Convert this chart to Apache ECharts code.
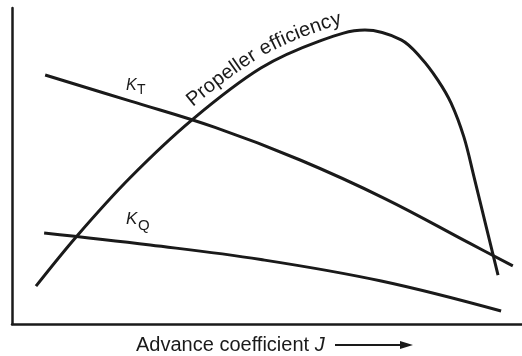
<!DOCTYPE html>
<html>
<head>
<meta charset="utf-8">
<script src="https://cdn.jsdelivr.net/npm/echarts@6/dist/echarts.min.js"></script>
<style>
html,body{margin:0;padding:0;background:#fff;}
#chart{width:522px;height:356px;}
</style>
</head>
<body>
<div id="chart"></div>
<script>
// propeller open water curves (0..1 scale)
var ktJ = [0.065, 0.231, 0.398, 0.565, 0.731, 0.898, 0.982];
var ktVal = [0.788, 0.706, 0.622, 0.519, 0.397, 0.255, 0.184];

var kqJ = [0.063, 0.271, 0.488, 0.724, 0.959];
var kqVal = [0.288, 0.250, 0.204, 0.136, 0.041];

var effJ = [0.047, 0.127, 0.231, 0.353, 0.488, 0.604, 0.692, 0.763, 0.802, 0.835, 0.861, 0.886, 0.906, 0.929, 0.953];
var effVal = [0.120, 0.278, 0.462, 0.646, 0.810, 0.896, 0.930, 0.899, 0.842, 0.772, 0.699, 0.592, 0.465, 0.313, 0.155];

var effLabel = 'Propeller efficiency';
var xName = 'Advance coefficient ';

var ink = '#1a1a1a';
var font = '"Liberation Sans", Arial, Helvetica, sans-serif';

function pairs(xs, ys) {
	return xs.map(function (x, i) { return [x, ys[i]]; });
}

var chart = echarts.init(document.getElementById('chart'));

var lineStyle = { color: ink, width: 3 };

chart.setOption({
	animation: false,
	backgroundColor: '#fff',
	grid: { left: 12, right: 0, top: 8, bottom: 32 },
	xAxis: {
		type: 'value', min: 0, max: 1,
		axisLine: { show: true, lineStyle: { color: ink, width: 2.5 } },
		axisTick: { show: false }, axisLabel: { show: false }, splitLine: { show: false }
	},
	yAxis: {
		type: 'value', min: 0, max: 1,
		axisLine: { show: true, lineStyle: { color: ink, width: 2.5 } },
		axisTick: { show: false }, axisLabel: { show: false }, splitLine: { show: false }
	},
	series: [
		{ name: 'KT', type: 'line', smooth: 0.4, showSymbol: false, lineStyle: lineStyle, data: pairs(ktJ, ktVal) },
		{ name: 'KQ', type: 'line', smooth: 0.4, showSymbol: false, lineStyle: lineStyle, data: pairs(kqJ, kqVal) },
		{ name: 'Efficiency', type: 'line', smooth: 0.35, showSymbol: false, lineStyle: lineStyle, data: pairs(effJ, effVal) }
	]
});

// text that follows the efficiency curve, one char at a time
function curveText(text, fontPx, startX, offset) {
	var pts = effJ.map(function (x, i) { return chart.convertToPixel({ gridIndex: 0 }, [x, effVal[i]]); });
	var dense = [];
	var n = pts.length;
	for (var i = 0; i < n - 1; i++) {
		var p0 = pts[Math.max(i - 1, 0)], p1 = pts[i], p2 = pts[i + 1], p3 = pts[Math.min(i + 2, n - 1)];
		for (var k = 0; k < 20; k++) {
			var t = k / 20, t2 = t * t, t3 = t2 * t;
			var px = 0.5 * ((2 * p1[0]) + (-p0[0] + p2[0]) * t + (2 * p0[0] - 5 * p1[0] + 4 * p2[0] - p3[0]) * t2 + (-p0[0] + 3 * p1[0] - 3 * p2[0] + p3[0]) * t3);
			var py = 0.5 * ((2 * p1[1]) + (-p0[1] + p2[1]) * t + (2 * p0[1] - 5 * p1[1] + 4 * p2[1] - p3[1]) * t2 + (-p0[1] + 3 * p1[1] - 3 * p2[1] + p3[1]) * t3);
			dense.push([px, py]);
		}
	}
	dense.push(pts[n - 1]);
	var len = [0];
	for (var j = 1; j < dense.length; j++) {
		len.push(len[j - 1] + Math.hypot(dense[j][0] - dense[j - 1][0], dense[j][1] - dense[j - 1][1]));
	}
	function at(s) {
		for (var m = 1; m < dense.length; m++) {
			if (len[m] >= s) {
				var a = dense[m - 1], b = dense[m];
				var f = (s - len[m - 1]) / (len[m] - len[m - 1] || 1);
				var dx = b[0] - a[0], dy = b[1] - a[1], d = Math.hypot(dx, dy) || 1;
				return { x: a[0] + dx * f, y: a[1] + dy * f, tx: dx / d, ty: dy / d };
			}
		}
		return null;
	}
	var s = 0;
	for (var q = 0; q < dense.length; q++) {
		if (dense[q][0] >= startX) { s = len[q]; break; }
	}
	var ctx = document.createElement('canvas').getContext('2d');
	ctx.font = fontPx + 'px ' + font;
	var els = [];
	for (var c = 0; c < text.length; c++) {
		var ch = text[c];
		var w = ctx.measureText(ch).width;
		var p = at(s + w / 2);
		if (p && ch !== ' ') {
			els.push({
				type: 'text',
				x: p.x + p.ty * offset,
				y: p.y - p.tx * offset,
				rotation: -Math.atan2(p.ty, p.tx),
				style: { text: ch, font: fontPx + 'px ' + font, fill: ink, align: 'center', verticalAlign: 'bottom' }
			});
		}
		s += w;
	}
	return els;
}

var graphics = curveText(effLabel, 20, 198, 5);

graphics.push(
	{ type: 'text', x: 126, y: 86, style: { text: 'K', font: 'italic 16px ' + font, fill: ink, verticalAlign: 'middle' } },
	{ type: 'text', x: 137, y: 90, style: { text: 'T', font: '14px ' + font, fill: ink, verticalAlign: 'middle' } },
	{ type: 'text', x: 126, y: 219, style: { text: 'K', font: 'italic 17px ' + font, fill: ink, verticalAlign: 'middle' } },
	{ type: 'text', x: 138, y: 226, style: { text: 'Q', font: '15px ' + font, fill: ink, verticalAlign: 'middle' } },
	{
		type: 'text', x: 136, y: 345,
		style: {
			text: '{n|' + xName + '}{j|J}',
			fill: ink, verticalAlign: 'middle',
			rich: {
				n: { font: '20px ' + font, fill: ink },
				j: { font: 'italic 20px ' + font, fill: ink }
			}
		}
	},
	{ type: 'line', shape: { x1: 335, y1: 345, x2: 402, y2: 345 }, style: { stroke: ink, lineWidth: 2 } },
	{ type: 'polygon', shape: { points: [[400, 341], [413, 345], [400, 349]] }, style: { fill: ink } }
);

chart.setOption({ graphic: { elements: graphics } });
</script>
</body>
</html>
